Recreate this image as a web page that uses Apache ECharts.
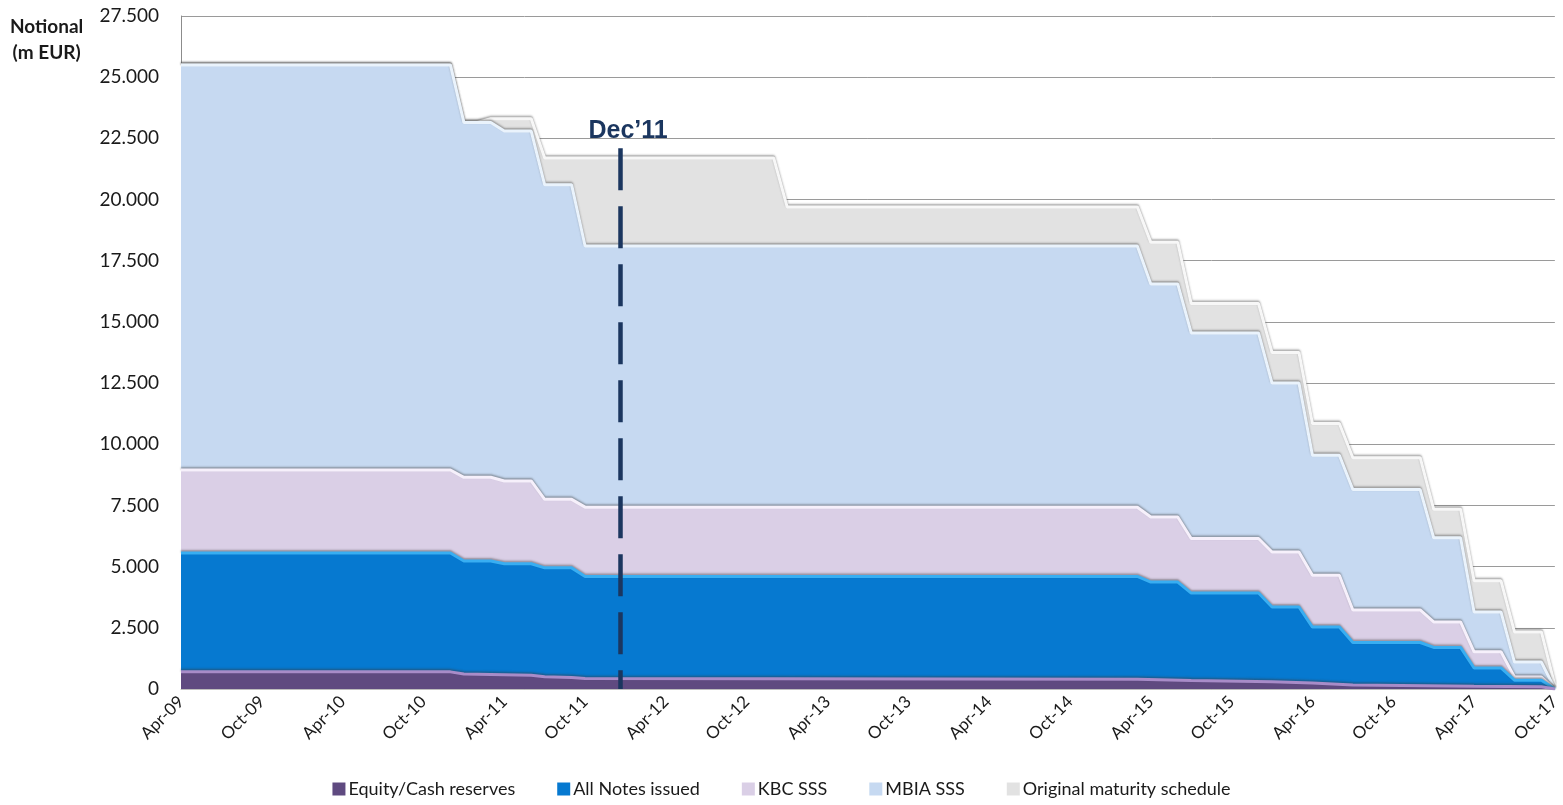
<!DOCTYPE html>
<html>
<head>
<meta charset="utf-8">
<title>Notional by maturity</title>
<script src="https://cdn.jsdelivr.net/npm/echarts@6/dist/echarts.min.js"></script>
<style>
  html, body { margin: 0; padding: 0; background: #fff; }
  #chart { width: 1563px; height: 805px; }
</style>
</head>
<body>
<div id="chart"></div>
<script>
// x is months since Apr-09 (0 = Apr-09, 102 = Oct-17)
const tickLabels = [
  "Apr-09", "Oct-09", "Apr-10", "Oct-10", "Apr-11", "Oct-11", "Apr-12", "Oct-12", "Apr-13",
  "Oct-13", "Apr-14", "Oct-14", "Apr-15", "Oct-15", "Apr-16", "Oct-16", "Apr-17", "Oct-17"
];

// cumulative levels (top of each band), m EUR
const equityTop = [
  [0, 700], [20, 700], [21, 610], [26, 560], [27, 500], [29, 470], [30, 430], [71, 400],
  [75, 350], [81, 300], [84, 250], [87, 160], [96, 110], [101, 90], [102, 0]
];
const notesTop = [
  [0, 5560], [20, 5560], [21, 5230], [23, 5230], [24, 5120], [26, 5120], [27, 4950], [29, 4950],
  [30, 4600], [71, 4600], [72, 4370], [74, 4370], [75, 3920], [80, 3920], [81, 3350], [83, 3350],
  [84, 2530], [86, 2530], [87, 1900], [92, 1900], [93, 1700], [95, 1700], [96, 860], [98, 860],
  [99, 360], [101, 360], [102, 0]
];
const kbcTop = [
  [0, 8950], [20, 8950], [21, 8650], [23, 8650], [24, 8500], [26, 8500], [27, 7750], [29, 7750],
  [30, 7430], [71, 7430], [72, 7030], [74, 7030], [75, 6150], [80, 6150], [81, 5600], [83, 5600],
  [84, 4650], [86, 4650], [87, 3230], [92, 3230], [93, 2740], [95, 2740], [96, 1520], [98, 1520],
  [99, 490], [101, 490], [102, 0]
];
const mbiaTop = [
  [0, 25500], [20, 25500], [21, 23150], [23, 23150], [24, 22800], [26, 22800], [27, 20600], [29, 20600],
  [30, 18100], [71, 18100], [72, 16550], [74, 16550], [75, 14550], [80, 14550], [81, 12500], [83, 12500],
  [84, 9550], [86, 9550], [87, 8150], [92, 8150], [93, 6180], [95, 6180], [96, 3150], [98, 3150],
  [99, 1100], [101, 1100], [102, 0]
];
const originalTop = [
  [0, 25500], [20, 25500], [21, 23150], [22, 23150], [23, 23300], [26, 23300], [27, 21700], [44, 21700],
  [45, 19700], [71, 19700], [72, 18250], [74, 18250], [75, 15750], [80, 15750], [81, 13750], [83, 13750],
  [84, 10850], [86, 10850], [87, 9450], [92, 9450], [93, 7350], [95, 7350], [96, 4420], [98, 4420],
  [99, 2330], [101, 2330], [102, 150]
];

const dec11Month = 32.6;
const dec11Top = 22100;

const fmtThousands = v => String(v).replace(/\B(?=(\d{3})+(?!\d))/g, ".");

function band(name, data, fill, edge, z) {
  return {
    name,
    type: "line",
    data,
    z,
    symbol: "none",
    silent: true,
    itemStyle: { color: fill },
    lineStyle: {
      color: edge,
      width: 3,
      shadowColor: "rgba(60,60,60,0.45)",
      shadowBlur: 2,
      shadowOffsetY: -1.5
    },
    areaStyle: { color: fill, opacity: 1 }
  };
}

const chart = echarts.init(document.getElementById("chart"));

const series = [
  band("Equity/Cash reserves", equityTop, "#5f4a80", "#a88cc8", 7),
  band("All Notes issued", notesTop, "#0679d0", "#38aef2", 6),
  band("KBC SSS", kbcTop, "#dacfe6", "#f6f0fb", 5),
  band("MBIA SSS", mbiaTop, "#c6d9f1", "#eaf3fc", 4),
  band("Original maturity schedule", originalTop, "#e2e2e2", "#f7f7f7", 3)
];

// dashed Dec'11 marker, drawn top-down so the dash pattern starts at the top
series[0].markLine = {
  silent: true,
  symbol: "none",
  z: 10,
  lineStyle: { color: "#1b365f", width: 4.5, type: [42, 16] },
  label: {
    show: true,
    position: "start",
    formatter: "Dec\u201911",
    color: "#1b365f",
    fontFamily: "Liberation Sans",
    fontWeight: "bold",
    fontSize: 25,
    distance: 5,
    offset: [8, 0]
  },
  data: [[{ coord: [dec11Month, dec11Top] }, { coord: [dec11Month, 0] }]]
};

chart.setOption({
  animation: false,
  backgroundColor: "#fff",
  textStyle: { fontFamily: "Lato" },
  grid: { left: 181, right: 3, top: 16, bottom: 116, containLabel: false },
  legend: {
    bottom: 2,
    left: "center",
    icon: "rect",
    itemWidth: 13,
    itemHeight: 13,
    itemGap: 42,
    textStyle: { fontSize: 18, color: "#1a1a1a", fontFamily: "Lato", padding: [0, 0, 0, -2] },
    data: ["Equity/Cash reserves", "All Notes issued", "KBC SSS", "MBIA SSS", "Original maturity schedule"]
  },
  graphic: [
    {
      type: "text",
      left: 10,
      top: 14,
      style: {
        text: "Notional\n(m EUR)",
        fill: "#1a1a1a",
        font: "bold 19px Lato",
        textAlign: "center",
        lineHeight: 26
      }
    }
  ],
  xAxis: {
    type: "value",
    min: 0,
    max: 102,
    interval: 6,
    axisLine: { show: true, lineStyle: { color: "#bdbdbd" } },
    axisTick: { show: false },
    splitLine: { show: false },
    axisLabel: {
      rotate: 45,
      fontSize: 17,
      color: "#1a1a1a",
      margin: 10,
      formatter: v => tickLabels[v / 6] || ""
    }
  },
  yAxis: {
    type: "value",
    min: 0,
    max: 27500,
    interval: 2500,
    axisLine: { show: true, lineStyle: { color: "#8c8c8c" } },
    axisTick: { show: false },
    splitLine: { show: true, lineStyle: { color: "#9a9a9a", width: 1 } },
    axisLabel: {
      fontSize: 19,
      color: "#1a1a1a",
      margin: 22,
      formatter: v => fmtThousands(v)
    }
  },
  series
});
</script>
</body>
</html>
